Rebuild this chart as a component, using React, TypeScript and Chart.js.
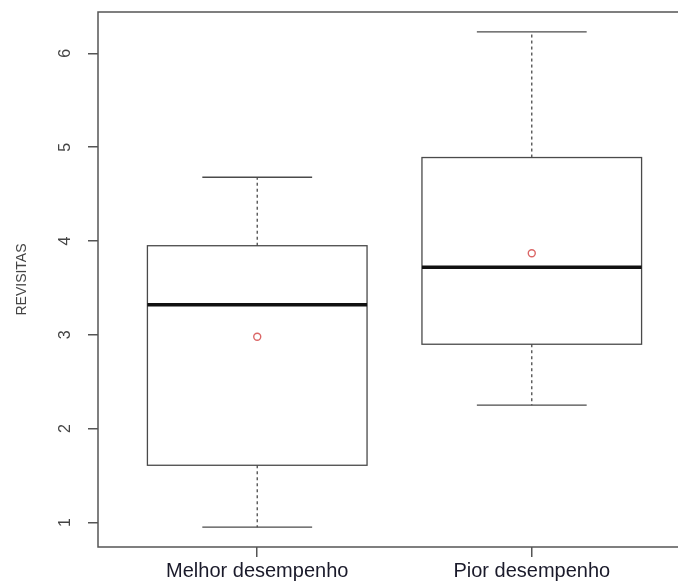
import React, { useEffect, useRef } from "react";
import { Chart, registerables } from "chart.js";

Chart.register(...registerables);

// Five-number summaries per group (whisker ends, quartiles, median) plus group means
const groups = ["Melhor desempenho", "Pior desempenho"];
const whiskerLow = [0.95, 2.25];
const q1 = [1.61, 2.9];
const median = [3.32, 3.72];
const q3 = [3.95, 4.89];
const whiskerHigh = [4.68, 6.23];
const means = [2.98, 3.87];
const yTicks = [1, 2, 3, 4, 5, 6];
const yTitle = "REVISITAS";

const FONT = "'Liberation Sans', Arial, Helvetica, sans-serif";
const LINE = "#4a4a4a";

// Axis limits follow R's convention: data range padded by 4% on each side
const yDataMin = Math.min(...whiskerLow);
const yDataMax = Math.max(...whiskerHigh);
const yPad = (yDataMax - yDataMin) * 0.04;
const xPad = groups.length * 0.04;

const boxPlugin = {
  id: "boxplotDraw",
  beforeDatasetsDraw(chart: any) {
    const { ctx } = chart;
    const x = chart.scales.x;
    const y = chart.scales.y;
    const seg = (x1: number, y1: number, x2: number, y2: number) => {
      ctx.beginPath();
      ctx.moveTo(x1, y1);
      ctx.lineTo(x2, y2);
      ctx.stroke();
    };
    ctx.save();
    groups.forEach((_, i) => {
      const pos = i + 1;
      const c = x.getPixelForValue(pos);
      const l = x.getPixelForValue(pos - 0.4);
      const r = x.getPixelForValue(pos + 0.4);
      const sl = x.getPixelForValue(pos - 0.2);
      const sr = x.getPixelForValue(pos + 0.2);
      const yLo = y.getPixelForValue(whiskerLow[i]);
      const yQ1 = y.getPixelForValue(q1[i]);
      const yMed = y.getPixelForValue(median[i]);
      const yQ3 = y.getPixelForValue(q3[i]);
      const yHi = y.getPixelForValue(whiskerHigh[i]);

      ctx.strokeStyle = LINE;
      ctx.lineWidth = 1.3;
      ctx.setLineDash([3, 3]);
      seg(c, yQ3, c, yHi);
      seg(c, yQ1, c, yLo);
      ctx.setLineDash([]);
      seg(sl, yHi, sr, yHi);
      seg(sl, yLo, sr, yLo);
      ctx.strokeRect(l, yQ3, r - l, yQ1 - yQ3);

      ctx.strokeStyle = "#111";
      ctx.lineWidth = 3.5;
      seg(l, yMed, r, yMed);
    });
    ctx.restore();
  },
  afterDraw(chart: any) {
    const { ctx, chartArea } = chart;
    const y = chart.scales.y;
    ctx.save();
    // plot frame
    ctx.strokeStyle = "#555";
    ctx.lineWidth = 1.5;
    ctx.strokeRect(
      chartArea.left,
      chartArea.top,
      chartArea.right - chartArea.left,
      chartArea.bottom - chartArea.top
    );
    // y tick labels, rotated parallel to the axis
    ctx.fillStyle = "#444";
    ctx.font = `16px ${FONT}`;
    ctx.textAlign = "center";
    ctx.textBaseline = "middle";
    yTicks.forEach((v) => {
      ctx.save();
      ctx.translate(chartArea.left - 32, y.getPixelForValue(v));
      ctx.rotate(-Math.PI / 2);
      ctx.fillText(String(v), 0, 0);
      ctx.restore();
    });
    ctx.restore();
  },
};

export default function App() {
  const canvasRef = useRef<HTMLCanvasElement | null>(null);

  useEffect(() => {
    if (!canvasRef.current) return;
    const chart = new Chart(canvasRef.current, {
      type: "scatter",
      data: {
        datasets: [
          {
            label: "média",
            data: means.map((m, i) => ({ x: i + 1, y: m })),
            pointStyle: "circle",
            pointRadius: 3.5,
            pointBorderWidth: 1.4,
            pointBorderColor: "rgba(215, 85, 85, 0.9)",
            pointBackgroundColor: "rgba(0,0,0,0)",
          },
        ],
      },
      options: {
        animation: false,
        responsive: false,
        devicePixelRatio: 1,
        layout: { padding: { top: 12, right: 9, left: 0, bottom: 0 } },
        plugins: {
          legend: { display: false },
          tooltip: { enabled: false },
        },
        scales: {
          x: {
            type: "linear",
            min: 1 - 0.5 - xPad,
            max: groups.length + 0.5 + xPad,
            afterBuildTicks: (scale: any) => {
              scale.ticks = groups.map((_, i) => ({ value: i + 1 }));
            },
            afterFit: (scale: any) => {
              scale.height = 37;
            },
            border: { display: false },
            grid: {
              drawOnChartArea: false,
              drawTicks: true,
              tickLength: 10,
              color: "#555",
              lineWidth: 1.5,
            },
            ticks: {
              autoSkip: false,
              maxRotation: 0,
              padding: 2,
              color: "#1a1a2a",
              font: { family: FONT, size: 20 },
              callback: (v: any) => groups[Number(v) - 1] ?? "",
            },
          },
          y: {
            type: "linear",
            min: yDataMin - yPad,
            max: yDataMax + yPad,
            afterBuildTicks: (scale: any) => {
              scale.ticks = yTicks.map((v) => ({ value: v }));
            },
            afterFit: (scale: any) => {
              scale.width = 98;
            },
            border: { display: false },
            grid: {
              drawOnChartArea: false,
              drawTicks: true,
              tickLength: 10,
              color: "#555",
              lineWidth: 1.5,
            },
            ticks: { display: false },
            title: {
              display: true,
              text: yTitle,
              color: "#444",
              font: { family: FONT, size: 14 },
              padding: { top: 14, bottom: 0 },
            },
          },
        },
      },
      plugins: [boxPlugin],
    });
    return () => chart.destroy();
  }, []);

  return (
    <div
      style={{
        position: "fixed",
        left: 0,
        top: 0,
        width: 678,
        height: 584,
        overflow: "hidden",
        background: "#fff",
      }}
    >
      <canvas ref={canvasRef} width={700} height={584} style={{ display: "block" }} />
    </div>
  );
}
